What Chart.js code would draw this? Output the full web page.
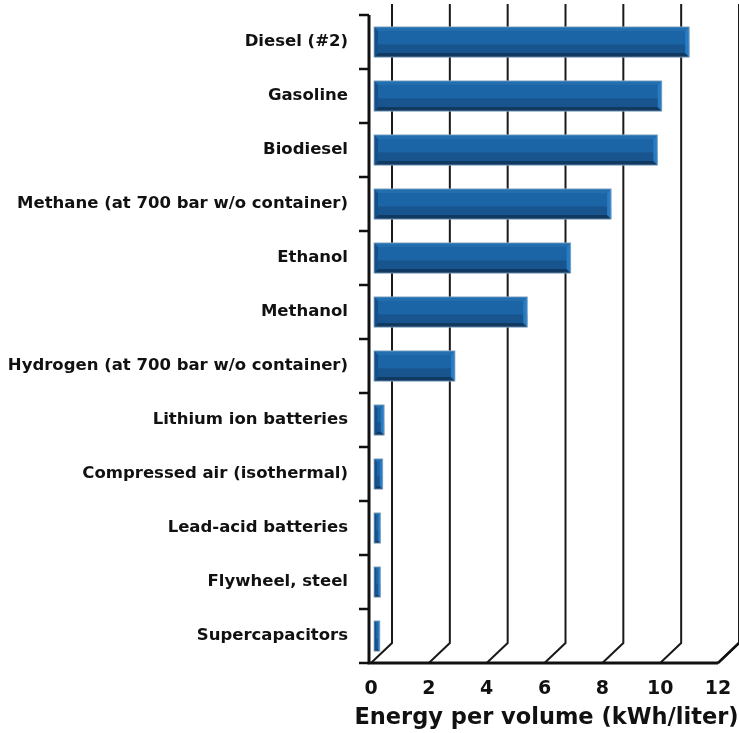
<!DOCTYPE html>
<html>
<head>
<meta charset="utf-8">
<script src="https://cdn.jsdelivr.net/npm/chart.js@4.4.0/dist/chart.umd.min.js"></script>
<style>
  html, body { margin: 0; padding: 0; background: #fff; }
  canvas { display: block; }
</style>
</head>
<body>
<canvas id="chartEnergy" width="739" height="733"></canvas>
<script>
var fuels = ["Diesel (#2)", "Gasoline", "Biodiesel", "Methane (at 700 bar w/o container)", "Ethanol", "Methanol",
  "Hydrogen (at 700 bar w/o container)", "Lithium ion batteries", "Compressed air (isothermal)",
  "Lead-acid batteries", "Flywheel, steel", "Supercapacitors"];
var energyPerVolume = [10.9, 9.95, 9.8, 8.2, 6.8, 5.3, 2.8, 0.35, 0.3, 0.22, 0.22, 0.2];
var xTicks = [0, 2, 4, 6, 8, 10, 12];
var xTitle = 'Energy per volume (kWh/liter)';

var depthX = 21, depthY = 20;

// back wall, floor and front axis lines
var framePlugin = {
  id: 'frame',
  beforeDatasetsDraw: function (chart) {
    var ctx = chart.ctx, a = chart.chartArea, xs = chart.scales.x, ys = chart.scales.y;
    ctx.save();
    ctx.strokeStyle = '#1a1a1a';
    ctx.lineWidth = 2;
    xTicks.forEach(function (v) {
      var px = xs.getPixelForValue(v);
      ctx.beginPath();
      ctx.moveTo(px + depthX, a.top - 11);
      ctx.lineTo(px + depthX, a.bottom - depthY);
      ctx.lineTo(px, a.bottom);
      ctx.stroke();
    });
    // front axes
    ctx.lineWidth = 3;
    ctx.strokeStyle = '#111';
    ctx.beginPath();
    ctx.moveTo(a.left - 2, a.top);
    ctx.lineTo(a.left - 2, a.bottom);
    ctx.lineTo(a.right, a.bottom);
    ctx.stroke();
    // y tick marks at category boundaries
    var band = ys.getPixelForValue(1) - ys.getPixelForValue(0);
    ctx.lineWidth = 2.5;
    for (var i = 0; i <= fuels.length; i++) {
      var py = ys.getPixelForValue(0) - band / 2 + i * band;
      ctx.beginPath();
      ctx.moveTo(a.left - 12, py);
      ctx.lineTo(a.left - 2, py);
      ctx.stroke();
    }
    ctx.restore();
  },
  afterDatasetsDraw: function (chart) {
    var ctx = chart.ctx;
    var bars = chart.getDatasetMeta(0).data;
    ctx.save();
    bars.forEach(function (bar) {
      var p = bar.getProps(['x', 'y', 'base', 'height'], true);
      var l = p.base + 3, r = p.x + 3, t = p.y - p.height / 2, btm = p.y + p.height / 2;
      var b = Math.min(4, (r - l) / 3);
      var h = btm - t;
      ctx.fillStyle = '#1b65a6';
      ctx.fillRect(l, t, r - l, h);
      ctx.fillStyle = '#18548e';
      ctx.fillRect(l, t + h * 0.58, r - l, h * 0.42);
      // top bevel
      ctx.fillStyle = '#226eae';
      ctx.beginPath();
      ctx.moveTo(l, t); ctx.lineTo(r, t); ctx.lineTo(r - b, t + b); ctx.lineTo(l + b, t + b); ctx.closePath(); ctx.fill();
      // bottom bevel
      ctx.fillStyle = '#113a62';
      ctx.beginPath();
      ctx.moveTo(l, btm); ctx.lineTo(r, btm); ctx.lineTo(r - b, btm - b); ctx.lineTo(l + b, btm - b); ctx.closePath(); ctx.fill();
      // left bevel
      ctx.fillStyle = '#154f87';
      ctx.beginPath();
      ctx.moveTo(l, t); ctx.lineTo(l + b, t + b); ctx.lineTo(l + b, btm - b); ctx.lineTo(l, btm); ctx.closePath(); ctx.fill();
      // right bevel
      ctx.fillStyle = '#287cc4';
      ctx.beginPath();
      ctx.moveTo(r, t); ctx.lineTo(r - b, t + b); ctx.lineTo(r - b, btm - b); ctx.lineTo(r, btm); ctx.closePath(); ctx.fill();
      ctx.strokeStyle = 'rgba(150,175,200,0.8)';
      ctx.lineWidth = 1;
      ctx.strokeRect(l, t, r - l, h);
    });
    // floor right edge
    var a = chart.chartArea;
    ctx.strokeStyle = '#111';
    ctx.lineWidth = 2.5;
    ctx.beginPath();
    ctx.moveTo(a.right, a.bottom);
    ctx.lineTo(a.right + depthX, a.bottom - depthY);
    ctx.stroke();
    ctx.restore();
  },
  afterDraw: function (chart) {
    // axis title drawn here so it may run wider than the plot area
    var ctx = chart.ctx, a = chart.chartArea;
    ctx.save();
    ctx.font = 'bold 22.5px "DejaVu Sans"';
    ctx.fillStyle = '#111';
    ctx.textAlign = 'center';
    ctx.textBaseline = 'middle';
    ctx.fillText(xTitle, (a.left + a.right) / 2 + 2, a.bottom + 55);
    ctx.restore();
  }
};

new Chart(document.getElementById("chartEnergy"), {
  type: 'bar',
  data: {
    labels: fuels,
    datasets: [{
      label: xTitle,
      data: energyPerVolume,
      backgroundColor: 'rgba(0,0,0,0)',
      barPercentage: 0.56,
      categoryPercentage: 1
    }]
  },
  options: {
    indexAxis: 'y',
    responsive: false,
    animation: false,
    devicePixelRatio: 1,
    layout: { padding: { top: 15, right: 21, bottom: 0, left: 0 } },
    plugins: { legend: { display: false }, tooltip: { enabled: false } },
    scales: {
      x: {
        min: 0, max: 12,
        afterBuildTicks: function (s) { s.ticks = xTicks.map(function (v) { return { value: v }; }); },
        afterFit: function (s) { s.height = 70; s.paddingLeft = 0; s.paddingRight = 0; },
        grid: { display: false, drawTicks: false },
        border: { display: false },
        ticks: { color: '#111', padding: 15, font: { family: 'DejaVu Sans', size: 19, weight: 'bold' } }
      },
      y: {
        grid: { display: false, drawTicks: false },
        border: { display: false },
        afterFit: function (s) { s.width = 371; s.paddingTop = 0; s.paddingBottom = 0; },
        ticks: { color: '#111', padding: 23, font: { family: 'DejaVu Sans', size: 16.5, weight: 'bold' } }
      }
    }
  },
  plugins: [framePlugin]
});
</script>
</body>
</html>
